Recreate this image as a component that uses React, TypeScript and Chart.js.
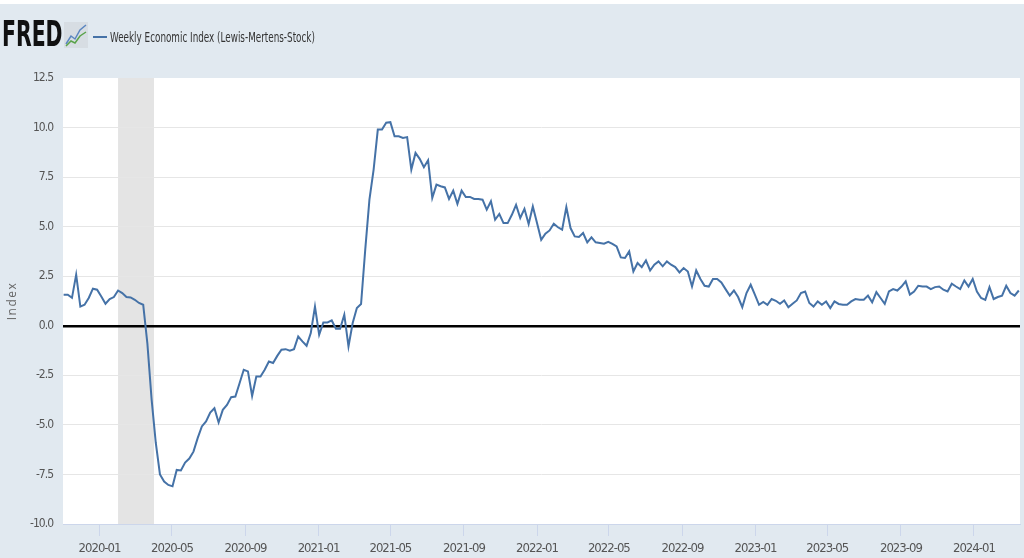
import { useEffect, useRef } from 'react';
import { Chart, registerables, Plugin } from 'chart.js';

Chart.register(...registerables);

const seriesName = 'Weekly Economic Index (Lewis-Mertens-Stock)';
const yAxisTitle = 'Index';

// weekly observations, one per week starting at firstWeek
const firstWeek = '2019-11-02';
const weiValues = [
  1.57, 1.57, 1.41, 2.58, 0.97, 1.06, 1.4, 1.87, 1.82, 1.48,
  1.11, 1.35, 1.45, 1.78, 1.65, 1.45, 1.43, 1.31, 1.15, 1.06,
  -0.9, -3.7, -5.9, -7.5, -7.86, -8.03, -8.1, -7.27, -7.3, -6.9,
  -6.7, -6.35, -5.67, -5.08, -4.83, -4.38, -4.16, -4.88, -4.24, -3.99,
  -3.6, -3.57, -2.9, -2.22, -2.3, -3.54, -2.56, -2.56, -2.22, -1.8,
  -1.88, -1.52, -1.21, -1.18, -1.26, -1.18, -0.54, -0.79, -1.01, -0.37,
  0.97, -0.45, 0.17, 0.17, 0.27, -0.15, -0.15, 0.56, -1.04, 0.14,
  0.9, 1.1, 3.84, 6.36, 7.88, 9.9, 9.9, 10.24, 10.27, 9.56,
  9.56, 9.48, 9.52, 7.88, 8.72, 8.42, 8.0, 8.35, 6.45, 7.12,
  7.04, 6.98, 6.4, 6.82, 6.15, 6.82, 6.5, 6.5, 6.4, 6.4,
  6.36, 5.86, 6.28, 5.35, 5.64, 5.18, 5.18, 5.6, 6.1, 5.44,
  5.9, 5.13, 6.02, 5.18, 4.34, 4.65, 4.81, 5.15, 4.97, 4.85,
  5.99, 4.93, 4.51, 4.48, 4.68, 4.21, 4.46, 4.21, 4.18, 4.14,
  4.23, 4.13, 4.0, 3.45, 3.42, 3.75, 2.74, 3.17, 2.96, 3.3,
  2.79, 3.08, 3.25, 3.0, 3.25, 3.08, 2.96, 2.69, 2.91, 2.74,
  1.98, 2.79, 2.36, 2.02, 1.98, 2.36, 2.36, 2.19, 1.85, 1.52,
  1.78, 1.45, 0.94, 1.65, 2.07, 1.57, 1.06, 1.2, 1.06, 1.35,
  1.26, 1.11, 1.28, 0.93, 1.11, 1.28, 1.65, 1.73, 1.15, 0.97,
  1.23, 1.06, 1.23, 0.89, 1.23, 1.1, 1.06, 1.06, 1.23, 1.35,
  1.31, 1.31, 1.52, 1.18, 1.7, 1.4, 1.11, 1.73, 1.85, 1.78,
  1.98, 2.24, 1.57, 1.73, 2.02, 1.98, 1.98, 1.85, 1.95, 1.98,
  1.82, 1.73, 2.12, 1.98, 1.85, 2.29, 1.98, 2.36, 1.73, 1.4,
  1.31, 1.95, 1.35, 1.45, 1.52, 2.02, 1.65, 1.52, 1.78,
];

const xTickLabels = [
  '2020-01', '2020-05', '2020-09', '2021-01', '2021-05', '2021-09', '2022-01',
  '2022-05', '2022-09', '2023-01', '2023-05', '2023-09', '2024-01',
];
const xRange = ['2019-11-01', '2024-03-18'];
const yMin = -10;
const yMax = 12.5;
const yStep = 2.5;
const recession = ['2020-02-01', '2020-04-01'];

const DAY = 86400000;
const toDay = (s: string) => Date.parse(s.length === 7 ? s + '-01' : s) / DAY;

const NARROW = "'DejaVu Sans Condensed', 'Liberation Sans Narrow', 'Open Sans', sans-serif";
const BG = '#e1e9f0';
const LINE = '#4572a7';

// white plot area + grey recession band, and tighter text like the FRED png
const plotBackground: Plugin<'line'> = {
  id: 'plotBackground',
  beforeDraw(chart) {
    const { ctx, chartArea, scales } = chart;
    (ctx as any).letterSpacing = '-1px';
    ctx.save();
    ctx.fillStyle = '#ffffff';
    ctx.fillRect(chartArea.left, chartArea.top, chartArea.width, chartArea.height);
    const x0 = scales.x.getPixelForValue(toDay(recession[0]));
    const x1 = scales.x.getPixelForValue(toDay(recession[1]));
    ctx.fillStyle = '#e4e4e4';
    ctx.fillRect(x0, chartArea.top, x1 - x0, chartArea.height);
    ctx.restore();
  },
};

// spaced-out rotated axis title on the left
const yTitle: Plugin<'line'> = {
  id: 'yTitle',
  afterDraw(chart) {
    const { ctx, chartArea } = chart;
    ctx.save();
    (ctx as any).letterSpacing = '1.5px';
    ctx.translate(13, (chartArea.top + chartArea.bottom) / 2);
    ctx.rotate(-Math.PI / 2);
    ctx.fillStyle = '#666';
    ctx.font = "12px 'Open Sans', sans-serif";
    ctx.textAlign = 'center';
    ctx.textBaseline = 'middle';
    ctx.fillText(yAxisTitle, 0, 0);
    ctx.restore();
  },
};

function WeiChart() {
  const canvasRef = useRef<HTMLCanvasElement>(null);
  const chartRef = useRef<Chart | null>(null);

  useEffect(() => {
    if (!canvasRef.current) return;
    if (chartRef.current) chartRef.current.destroy();

    const start = toDay(firstWeek);
    const points = weiValues.map((v, i) => ({ x: start + 7 * i, y: v }));

    chartRef.current = new Chart(canvasRef.current, {
      type: 'line',
      data: {
        datasets: [
          {
            label: seriesName,
            data: points,
            borderColor: LINE,
            borderWidth: 2,
            pointRadius: 0,
            tension: 0,
          },
        ],
      },
      options: {
        responsive: true,
        maintainAspectRatio: false,
        animation: false,
        layout: { padding: { top: 78, right: 4, left: 0, bottom: 0 } },
        plugins: {
          legend: { display: false },
          tooltip: { enabled: false },
        },
        scales: {
          x: {
            type: 'linear',
            min: toDay(xRange[0]),
            max: toDay(xRange[1]),
            afterBuildTicks(axis) {
              axis.ticks = xTickLabels.map((l) => ({ value: toDay(l) }));
            },
            afterFit(axis) {
              axis.height = 34;
            },
            ticks: {
              autoSkip: false,
              maxRotation: 0,
              padding: 5,
              color: '#555',
              font: { family: NARROW, size: 13 },
              callback: (_v, index) => xTickLabels[index],
            },
            grid: {
              drawOnChartArea: false,
              tickLength: 12,
              color: '#ccd6eb',
            },
            border: { color: '#ccd6eb' },
          },
          y: {
            min: yMin,
            max: yMax,
            afterFit(axis) {
              axis.width = 63;
            },
            ticks: {
              stepSize: yStep,
              padding: 10,
              color: '#555',
              font: { family: NARROW, size: 12 },
              callback: (v) => Number(v).toFixed(1),
            },
            grid: {
              drawTicks: false,
              color: (c) =>
                c.tick.value === 0 ? '#000000' : c.tick.value === yMax || c.tick.value === yMin ? 'rgba(0,0,0,0)' : '#e6e6e6',
              lineWidth: (c) => (c.tick.value === 0 ? 2.5 : 1),
            },
            border: { display: false },
          },
        },
      },
      plugins: [plotBackground, yTitle],
    });

    return () => {
      if (chartRef.current) {
        chartRef.current.destroy();
        chartRef.current = null;
      }
    };
  }, []);

  return (
    <div style={{ position: 'absolute', inset: 0 }}>
      <canvas ref={canvasRef}></canvas>
    </div>
  );
}

function FredIcon() {
  return (
    <svg width="24" height="26" viewBox="0 0 24 26" style={{ position: 'absolute', left: 64, top: 22 }}>
      <rect x="0" y="0" width="24" height="26" fill="#d7dde3" />
      <polyline points="2,22 7,14 11,17 16,8 22,3" fill="none" stroke="#5b86c0" strokeWidth="1.5" />
      <polyline points="2,24 7,19 11,21 16,14 22,10" fill="none" stroke="#5aa34a" strokeWidth="1.5" />
    </svg>
  );
}

export default function App() {
  return (
    <div
      style={{
        position: 'absolute',
        left: 0,
        top: 0,
        width: 1024,
        height: 558,
        background: BG,
        overflow: 'hidden',
      }}
    >
      <div style={{ position: 'absolute', left: 0, top: 0, width: 1024, height: 4, background: '#fff' }} />
      <WeiChart />
      <div
        style={{
          position: 'absolute',
          left: 2,
          top: 14,
          fontFamily: NARROW,
          fontWeight: 'bold',
          fontSize: 36,
          lineHeight: '40px',
          color: '#111',
          transform: 'scaleX(0.63)',
          transformOrigin: 'left top',
        }}
      >
        FRED
      </div>
      <FredIcon />
      <div style={{ position: 'absolute', left: 93, top: 36, width: 14, height: 2, background: LINE }} />
      <div
        style={{
          position: 'absolute',
          left: 110,
          top: 28,
          fontFamily: NARROW,
          fontSize: 14,
          lineHeight: '18px',
          color: '#333',
          whiteSpace: 'nowrap',
          transform: 'scaleX(0.7)',
          transformOrigin: 'left top',
        }}
      >
        {seriesName}
      </div>
    </div>
  );
}
